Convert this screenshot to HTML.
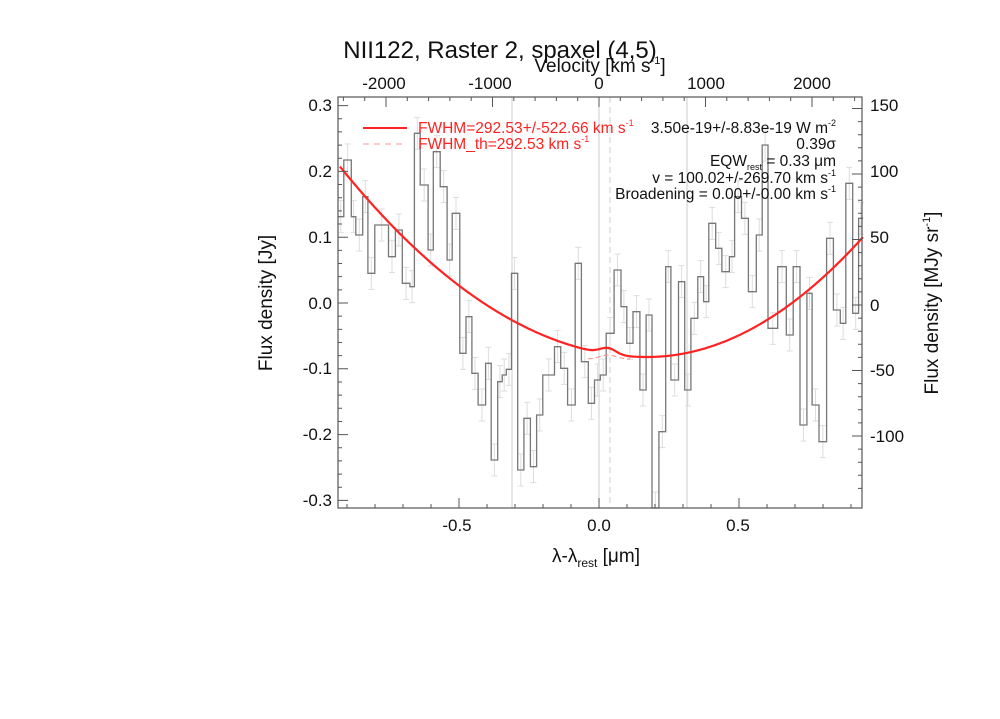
<!DOCTYPE html>
<html><head><meta charset="utf-8"><style>
body{margin:0;background:#fff;}
svg text{font-family:"Liberation Sans",sans-serif;}
</style></head><body>
<svg id="s" width="1000" height="714" xmlns="http://www.w3.org/2000/svg">
<rect width="1000" height="714" fill="#fff"/>
<line x1="512" y1="97" x2="512" y2="508" stroke="#ccc" stroke-width="1"/>
<line x1="599" y1="97" x2="599" y2="508" stroke="#ccc" stroke-width="1"/>
<line x1="687" y1="97" x2="687" y2="508" stroke="#ccc" stroke-width="1"/>
<line x1="610" y1="97" x2="610" y2="508" stroke="#ccc" stroke-width="1" stroke-dasharray="6,4"/>
<g id="err" stroke="#ddd" stroke-width="1"></g>
<path id="hist" fill="none" stroke="#777" stroke-width="1.3"/>
<path id="fitd" fill="none" stroke="#f88" stroke-width="1" stroke-dasharray="5,3"/>
<path id="fit" fill="none" stroke="#f22" stroke-width="2.2"/>
<rect x="338" y="97" width="524" height="411" fill="none" stroke="#555" stroke-width="1.2"/>
<g id="ticks" stroke="#555" stroke-width="1"></g>
<g font-size="17" fill="#111" text-anchor="end">
<text x="332" y="111">0.3</text><text x="332" y="177">0.2</text><text x="332" y="243">0.1</text>
<text x="332" y="309">0.0</text><text x="332" y="374">-0.1</text><text x="332" y="440">-0.2</text><text x="332" y="506">-0.3</text>
</g>
<g font-size="17" fill="#111" text-anchor="start">
<text x="870" y="111">150</text><text x="870" y="177">100</text><text x="870" y="243">50</text>
<text x="870" y="311">0</text><text x="870" y="376">-50</text><text x="870" y="442">-100</text>
</g>
<g font-size="17" fill="#111" text-anchor="middle">
<text x="457" y="531">-0.5</text><text x="599" y="531">0.0</text><text x="738" y="531">0.5</text>
<text x="384" y="89">-2000</text><text x="490" y="89">-1000</text><text x="599" y="89">0</text>
<text x="706" y="89">1000</text><text x="812" y="89">2000</text>
</g>
<text x="500" y="58" font-size="24" fill="#111" text-anchor="middle">NII122, Raster 2, spaxel (4,5)</text>
<text x="600" y="72" font-size="19" fill="#111" text-anchor="middle">Velocity [km s<tspan font-size="11" dy="-8">-1</tspan><tspan dy="8">]</tspan></text>
<text x="596" y="562" font-size="19" fill="#111" text-anchor="middle">λ-λ<tspan font-size="12" dy="5">rest</tspan><tspan dy="-5"> [μm]</tspan></text>
<text transform="translate(272,303) rotate(-90)" font-size="19" fill="#111" text-anchor="middle">Flux density [Jy]</text>
<text transform="translate(938,303) rotate(-90)" font-size="19" fill="#111" text-anchor="middle">Flux density [MJy sr<tspan font-size="11" dy="-8">-1</tspan><tspan dy="8">]</tspan></text>
<line x1="363" y1="128" x2="407" y2="128" stroke="#f22" stroke-width="2"/>
<line x1="363" y1="144" x2="407" y2="144" stroke="#f99" stroke-width="1" stroke-dasharray="6,5"/>
<g font-size="15.5" fill="#f22"><text x="418" y="133">FWHM=292.53+/-522.66 km s<tspan font-size="9" dy="-7">-1</tspan></text>
<text x="418" y="149">FWHM_th=292.53 km s<tspan font-size="9" dy="-7">-1</tspan></text></g>
<g font-size="15.5" fill="#111" text-anchor="end">
<text x="836" y="133">3.50e-19+/-8.83e-19 W m<tspan font-size="9" dy="-7">-2</tspan></text>
<text x="836" y="149">0.39σ</text>
<text x="836" y="166">EQW<tspan font-size="9" dy="4">rest</tspan><tspan dy="-4"> = 0.33 μm</tspan></text>
<text x="836" y="183">v = 100.02+/-269.70 km s<tspan font-size="9" dy="-7">-1</tspan></text>
<text x="836" y="199">Broadening = 0.00+/-0.00 km s<tspan font-size="9" dy="-7">-1</tspan></text>
</g>
</svg>
<script>
var b=[[22,380],[40,210],[62,380],[75,435],[95,320],[110,550],[130,405],[170,500],[190,420],[210,580],[232,590],[245,130],[262,285],[285,480],[300,185],[320,290],[340,510],[355,370],[377,790],[395,680],[412,850],[430,945],[452,820],[468,1110],[487,875],[500,855],[512,838],[527,550],[545,1140],[563,985],[582,1130],[600,975],[618,855],[652,770],[670,835],[690,945],[712,520],[730,815],[750,940],[768,870],[785,855],[802,730],[825,540],[845,650],[862,760],[880,665],[900,900],[918,675],[935,1260],[955,1025],[975,530],[990,870],[1012,575],[1030,900],[1048,685],[1068,560],[1085,635],[1100,400],[1120,475],[1138,545],[1160,500],[1175,320],[1195,385],[1215,605],[1238,435],[1255,165],[1272,715],[1300,530],[1325,735],[1345,530],[1365,1005],[1385,610],[1400,945],[1420,1055],[1442,445],[1462,660],[1482,700],[1498,280],[1518,670],[1535,385],[1548,0]];
function X(z){return 330+z/2.904}function Y(z){return Math.min(508,90+z/3)}
var d="",e="";
for(var i=0;i<b.length-1;i++){var x0=X(b[i][0]),x1=X(b[i+1][0]),y=Y(b[i][1]);
d+=(i==0?"M":"L")+x0.toFixed(1)+","+y.toFixed(1)+"L"+x1.toFixed(1)+","+y.toFixed(1);
var c=((x0+x1)/2).toFixed(1);var a=Math.max(97,y-16),bb=Math.min(508,y+16);
e+="M"+c+","+a+"V"+bb+"M"+(c-3)+","+a+"h6M"+(c-3)+","+bb+"h6";}
document.getElementById("hist").setAttribute("d",d);
var ep=document.createElementNS("http://www.w3.org/2000/svg","path");ep.setAttribute("d",e);ep.setAttribute("fill","none");
document.getElementById("err").appendChild(ep);
function base(x){var dx=x-647;return dx<0?357-0.00202*dx*dx:357-0.00257*dx*dx;}
var f="",fd="";
for(var x=340;x<=863;x+=1){var y=base(x)-6*Math.exp(-Math.pow(x-608,2)/(2*64));f+=(x==340?"M":"L")+x+","+y.toFixed(1);}
for(var x=588;x<=630;x+=1){var y=359-4*Math.exp(-Math.pow(x-608,2)/(2*64));fd+=(x==588?"M":"L")+x+","+y.toFixed(1);}
document.getElementById("fit").setAttribute("d",f);
document.getElementById("fitd").setAttribute("d",fd);
var t="";
[-0.5,0,0.5].forEach(function(v){var x=599+v*280;t+="M"+x+",508V498";});
for(var v=-0.9;v<=0.91;v+=0.1){var x=599+v*280;t+="M"+x+",508V504";}
[-2000,-1000,0,1000,2000].forEach(function(v){var x=599+v*0.1065;t+="M"+x+",97V107";});
for(var v=-2400;v<=2400;v+=200){var x=599+v*0.1065;t+="M"+x+",97V101";}
for(var v=-0.3;v<=0.31;v+=0.1){var y=303-v*658;t+="M338,"+y+"H348";}
for(var v=-0.3;v<=0.31;v+=0.02){var y=303-v*658;t+="M338,"+y+"H342";}
for(var v=-100;v<=150;v+=50){var y=305-v*1.31;t+="M852,"+y+"H862";}
for(var v=-140;v<=150;v+=10){var y=305-v*1.31;t+="M858,"+y+"H862";}
var tp=document.createElementNS("http://www.w3.org/2000/svg","path");tp.setAttribute("d",t);tp.setAttribute("fill","none");
document.getElementById("ticks").appendChild(tp);
</script>
</body></html>
